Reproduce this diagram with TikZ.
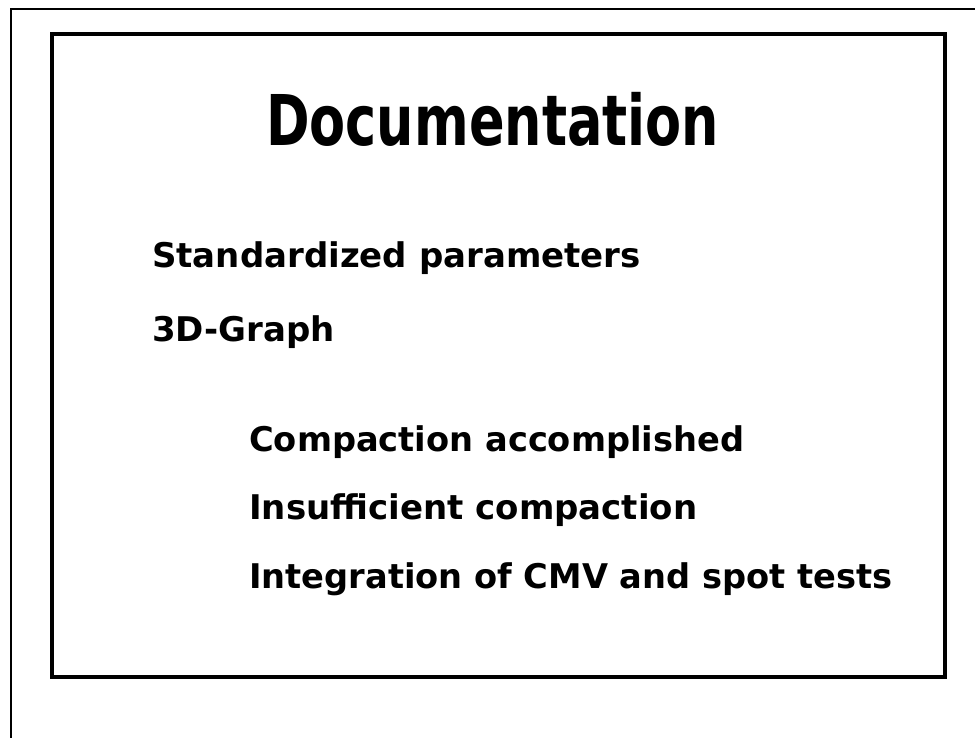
\documentclass[tikz,border=0pt]{standalone}
\usepackage{fontspec}
\setmainfont{DejaVu Sans}
\begin{document}
\begin{tikzpicture}[x=1pt,y=-1pt,
  title/.style={anchor=base west,inner sep=0pt,font=\fontsize{70}{76}\selectfont\bfseries},
  item/.style={anchor=base west,inner sep=0pt,font=\fontsize{34}{40}\selectfont\bfseries}]
  \useasboundingbox (0,0) rectangle (975,738);
  % outer frame, open at right and bottom
  \draw[line width=2pt] (11,740) -- (11,9) -- (977,9);
  % inner slide box
  \draw[line width=4pt] (52,34.5) rectangle (945,677);
  \node[title] (t) at (266,146) {\scalebox{0.75}[1]{Documentation}};
  \node[item] (a) at (152,268) {Standardized parameters};
  \node[item] (b) at (152,341) {3D-Graph};
  \node[item] (c) at (249,451) {\scalebox{0.99}[1]{Compaction accomplished}};
  \node[item] (d) at (249,519) {Insufficient compaction};
  \node[item] (e) at (249,588) {\scalebox{0.99}[1]{Integration of CMV and spot tests}};
\end{tikzpicture}
\end{document}
